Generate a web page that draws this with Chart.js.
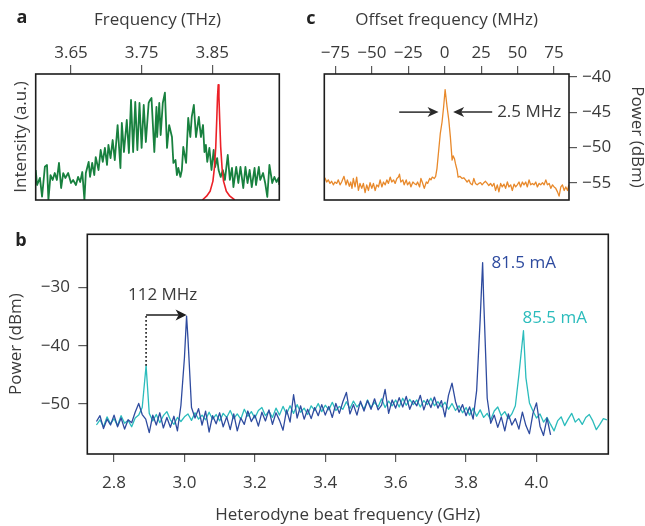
<!DOCTYPE html>
<html><head><meta charset="utf-8">
<script src="https://cdn.jsdelivr.net/npm/chart.js@4.4.1/dist/chart.umd.min.js"></script>
<style>
html,body{margin:0;padding:0;background:#fff;}
#wrap{position:relative;width:645px;height:526px;background:#fff;}
canvas{position:absolute;left:0;top:0;}
</style></head><body>
<div id="wrap">
<canvas id="ca" width="645" height="526"></canvas>
<canvas id="cc" width="645" height="526"></canvas>
<canvas id="cb" width="645" height="526"></canvas>
</div>
<script>
// ---------------- Panel a: spectra (THz) ----------------
const freqGreen = [
3.600,3.602,3.606,3.609,3.613,3.616,3.618,3.621,3.624,3.627,
3.630,3.633,3.636,3.639,3.642,3.646,3.650,3.653,3.657,3.660,
3.663,3.666,3.669,3.671,3.675,3.677,3.680,3.683,3.685,3.689,
3.692,3.695,3.698,3.701,3.703,3.706,3.709,3.712,3.716,3.720,
3.722,3.725,3.729,3.732,3.735,3.738,3.741,3.744,3.747,3.750,
3.753,3.756,3.760,3.762,3.764,3.768,3.771,3.772,3.775,3.777,
3.780,3.783,3.786,3.789,3.793,3.795,3.798,3.800,3.802,3.805,
3.807,3.809,3.813,3.816,3.819,3.821,3.824,3.827,3.831,3.834,
3.837,3.839,3.841,3.843,3.846,3.849,3.852,3.854,3.857,3.859,
3.862,3.865,3.868,3.872,3.875,3.878,3.880,3.884,3.887,3.890,
3.894,3.897,3.900,3.903,3.906,3.910,3.912,3.916,3.918,3.922,
3.925,3.928,3.931,3.935,3.938,3.941,3.944,3.945];
const intensityGreen = [
0.238,0.119,0.175,0.026,0.264,0.278,0.000,0.198,0.159,0.214,
0.159,0.294,0.095,0.214,0.175,0.214,0.135,0.159,0.119,0.183,
0.143,0.222,0.000,0.214,0.302,0.183,0.294,0.198,0.341,0.238,
0.397,0.302,0.413,0.278,0.437,0.333,0.476,0.317,0.595,0.254,
0.611,0.381,0.635,0.373,0.794,0.381,0.778,0.397,0.770,0.413,
0.754,0.460,0.770,0.794,0.810,0.381,0.738,0.500,0.770,0.516,
0.770,0.852,0.413,0.595,0.500,0.294,0.317,0.198,0.254,0.183,
0.238,0.421,0.294,0.651,0.500,0.659,0.754,0.500,0.659,0.500,
0.595,0.381,0.437,0.302,0.413,0.238,0.397,0.262,0.333,0.238,
0.183,0.238,0.159,0.357,0.159,0.254,0.103,0.262,0.135,0.262,
0.095,0.262,0.135,0.238,0.103,0.254,0.119,0.262,0.159,0.214,
0.135,0.024,0.278,0.135,0.183,0.143,0.175,0.119];
const freqRed = [3.836,3.842,3.847,3.851,3.853,3.855,3.8565,3.8575,3.8585,3.8595,3.8605,3.862,3.864,3.866,3.870,3.875,3.882];
const intensityRed = [0.0,0.03,0.07,0.15,0.25,0.42,0.65,0.82,0.915,0.82,0.65,0.42,0.25,0.15,0.07,0.03,0.0];
const ticksA = [3.65, 3.75, 3.85];
const tickLabelsA = ['3.65', '3.75', '3.85'];

// ---------------- Panel c: beat note (MHz offset) ----------------
const freqOrange = [
-82.2,-81.0,-79.9,-78.7,-77.6,-76.4,-75.3,-74.1,-73.0,-71.8,
-70.7,-69.1,-67.7,-66.8,-65.4,-64.5,-63.6,-62.7,-61.5,-60.4,
-59.2,-58.1,-56.9,-55.8,-54.6,-53.5,-52.3,-51.2,-50.0,-48.9,
-47.7,-46.6,-45.4,-44.3,-43.1,-42.0,-40.8,-39.7,-38.6,-37.4,
-36.3,-35.1,-34.0,-32.8,-31.7,-31.0,-30.1,-28.7,-27.8,-26.4,
-25.5,-24.1,-23.2,-21.8,-20.9,-19.5,-18.6,-17.2,-16.3,-15.4,
-14.0,-12.6,-11.7,-10.3,-9.4,-8.5,-7.1,-6.2,-5.3,-4.1,
-3.0,-1.8,-0.7,0.3,1.6,2.8,3.9,5.1,5.8,6.7,
7.4,8.5,9.2,10.4,12.0,13.1,14.3,15.4,16.6,17.7,
18.9,20.0,21.1,22.3,23.4,24.6,25.7,26.9,28.0,29.2,
30.3,31.5,32.6,33.8,34.9,36.1,37.2,38.4,39.5,40.7,
41.8,43.0,44.1,45.3,46.4,47.6,48.7,49.8,51.0,52.1,
53.3,54.4,55.6,56.7,57.9,59.0,60.2,61.3,62.5,63.6,
64.8,65.9,67.1,68.2,69.4,70.5,71.7,72.8,74.0,75.1,
76.2,77.4,78.5,79.7,80.8,82.0,83.1,84.3,85.2];
const powerOrange = [
-54.3,-54.9,-54.6,-55.1,-54.8,-55.3,-54.9,-55.1,-54.6,-55.3,
-54.9,-54.1,-55.3,-54.6,-55.5,-54.9,-55.8,-54.4,-55.6,-54.2,
-56.1,-55.1,-55.8,-55.1,-56.4,-55.3,-56.1,-55.0,-55.8,-55.1,
-56.1,-55.3,-55.6,-54.6,-55.6,-54.9,-55.3,-54.6,-55.1,-54.2,
-54.9,-54.6,-55.1,-54.4,-54.2,-53.8,-54.9,-54.6,-55.3,-54.6,
-55.3,-54.9,-55.6,-54.9,-55.1,-55.3,-54.9,-55.6,-54.4,-54.9,
-55.8,-54.9,-55.1,-54.4,-54.6,-54.2,-54.4,-54.1,-53.0,-50.4,
-48.0,-46.4,-44.2,-41.8,-44.2,-46.1,-48.5,-51.8,-51.2,-51.6,
-52.3,-53.2,-54.2,-54.1,-54.4,-54.3,-54.6,-54.9,-54.6,-55.1,
-55.3,-54.4,-55.1,-55.3,-55.1,-55.0,-55.3,-55.0,-54.8,-55.1,
-55.4,-55.1,-55.5,-55.1,-56.1,-55.3,-56.3,-55.1,-55.6,-55.2,
-55.8,-54.9,-55.6,-55.3,-56.1,-55.2,-55.6,-55.3,-54.9,-55.6,
-54.9,-55.3,-54.9,-55.6,-54.6,-55.3,-55.1,-55.3,-54.9,-55.6,
-55.1,-55.3,-55.0,-55.3,-54.6,-55.3,-55.1,-55.8,-55.3,-55.6,
-55.8,-56.3,-56.9,-55.6,-55.3,-56.1,-55.6,-56.1,-55.3];
const ticksCx = [-75, -50, -25, 0, 25, 50, 75];
const tickLabelsCx = ['\u221275', '\u221250', '\u221225', '0', '25', '50', '75'];
const ticksCy = [-55, -50, -45, -40];
const tickLabelsCy = ['\u221255', '\u221250', '\u221245', '\u221240'];

// ---------------- Panel b: heterodyne beat (GHz) ----------------
const freqBlue = [
2.75,2.76,2.77,2.78,2.79,2.80,2.81,2.82,2.83,2.84,
2.85,2.86,2.87,2.88,2.89,2.90,2.91,2.92,2.93,2.94,
2.95,2.96,2.97,2.98,2.99,3.00,3.006,3.01,3.02,3.03,
3.04,3.05,3.06,3.07,3.08,3.09,3.10,3.11,3.12,3.13,
3.14,3.15,3.16,3.17,3.18,3.19,3.20,3.21,3.22,3.23,
3.24,3.25,3.26,3.27,3.28,3.29,3.30,3.31,3.32,3.33,
3.34,3.35,3.36,3.37,3.38,3.39,3.40,3.41,3.42,3.43,
3.44,3.45,3.46,3.47,3.48,3.49,3.50,3.51,3.52,3.53,
3.54,3.55,3.56,3.57,3.58,3.59,3.60,3.61,3.62,3.63,
3.64,3.65,3.66,3.67,3.68,3.69,3.70,3.71,3.72,3.73,
3.74,3.75,3.76,3.77,3.78,3.79,3.80,3.81,3.82,3.83,
3.84,3.847,3.85,3.86,3.87,3.88,3.89,3.90,3.91,3.92,
3.93,3.94,3.95,3.96,3.97,3.98,3.99,4.00,4.01,4.02,
4.03,4.04];
const powerBlue = [
-53.0,-52.0,-54.2,-52.6,-53.6,-51.9,-53.9,-52.4,-54.3,-52.7,
-53.2,-51.4,-49.9,-51.8,-52.6,-54.9,-51.9,-53.6,-51.5,-54.1,
-52.3,-54.0,-52.1,-54.6,-50.2,-42.0,-34.9,-38.8,-50.6,-52.4,
-50.8,-53.6,-51.2,-54.8,-52.0,-53.4,-51.5,-53.9,-52.2,-54.4,
-51.7,-54.6,-52.4,-53.5,-51.2,-53.0,-51.9,-53.8,-51.4,-52.9,
-51.0,-53.5,-51.5,-52.8,-54.5,-51.0,-53.1,-48.4,-52.4,-50.3,
-52.6,-50.9,-52.5,-50.6,-52.0,-50.1,-51.9,-50.4,-52.3,-49.9,
-51.6,-49.6,-48.0,-51.7,-50.1,-51.9,-49.5,-51.2,-49.4,-50.9,
-49.1,-51.0,-50.2,-47.5,-51.6,-49.3,-50.7,-48.9,-50.5,-48.7,
-50.9,-49.4,-50.3,-48.5,-51.0,-49.2,-50.6,-48.8,-50.7,-49.4,
-52.2,-48.5,-46.4,-49.6,-51.4,-50.1,-52.0,-50.5,-52.6,-47.7,
-35.5,-25.7,-32.0,-49.0,-53.3,-51.9,-54.0,-52.2,-54.6,-51.7,
-53.6,-52.5,-54.3,-51.4,-53.7,-55.1,-51.6,-49.8,-53.8,-55.4,
-52.4,-55.3];
const freqCyan = [
2.75,2.76,2.77,2.78,2.79,2.80,2.81,2.82,2.83,2.84,
2.85,2.86,2.87,2.88,2.891,2.90,2.91,2.92,2.93,2.94,
2.95,2.96,2.97,2.98,2.99,3.00,3.01,3.02,3.03,3.04,
3.05,3.06,3.07,3.08,3.09,3.10,3.11,3.12,3.13,3.14,
3.15,3.16,3.17,3.18,3.19,3.20,3.21,3.22,3.23,3.24,
3.25,3.26,3.27,3.28,3.29,3.30,3.31,3.32,3.33,3.34,
3.35,3.36,3.37,3.38,3.39,3.40,3.41,3.42,3.43,3.44,
3.45,3.46,3.47,3.48,3.49,3.50,3.51,3.52,3.53,3.54,
3.55,3.56,3.57,3.58,3.59,3.60,3.61,3.62,3.63,3.64,
3.65,3.66,3.67,3.68,3.69,3.70,3.71,3.72,3.73,3.74,
3.75,3.76,3.77,3.78,3.79,3.80,3.81,3.82,3.83,3.84,
3.85,3.86,3.87,3.88,3.89,3.90,3.91,3.92,3.93,3.94,
3.95,3.963,3.97,3.98,3.99,4.00,4.01,4.02,4.03,4.04,
4.05,4.06,4.07,4.08,4.09,4.10,4.11,4.12,4.13,4.14,
4.15,4.16,4.17,4.18,4.19,4.20];
const powerCyan = [
-53.6,-52.7,-53.9,-52.2,-53.4,-52.5,-53.7,-52.0,-53.3,-52.8,
-53.9,-52.4,-51.9,-50.6,-43.4,-51.6,-52.9,-51.8,-53.2,-52.0,
-51.3,-52.7,-53.5,-52.3,-53.0,-52.2,-51.7,-52.8,-51.5,-52.6,
-51.9,-52.7,-51.4,-52.6,-51.8,-52.9,-51.6,-52.3,-51.1,-52.5,
-51.7,-52.6,-50.9,-52.1,-51.3,-52.4,-51.1,-50.6,-52.0,-51.2,
-52.3,-50.7,-51.9,-50.4,-51.7,-50.3,-51.6,-50.1,-51.4,-50.7,
-51.8,-50.3,-51.1,-49.9,-51.3,-50.2,-51.0,-49.7,-51.1,-50.4,
-50.9,-49.6,-50.8,-49.5,-50.5,-49.8,-50.9,-49.3,-50.6,-49.7,
-50.5,-49.1,-50.6,-49.5,-50.3,-49.3,-50.5,-49.0,-50.2,-49.2,
-50.1,-49.3,-50.5,-49.4,-50.1,-49.0,-50.3,-49.6,-50.5,-49.7,
-50.9,-49.9,-51.1,-50.3,-51.5,-50.6,-51.9,-50.7,-52.1,-51.0,
-52.3,-51.6,-52.7,-51.2,-50.5,-52.0,-51.3,-52.5,-51.7,-50.3,
-45.0,-37.4,-45.5,-49.8,-51.2,-52.4,-51.7,-53.1,-52.3,-53.5,
-54.6,-52.9,-52.2,-53.7,-52.6,-51.6,-53.1,-52.5,-53.5,-52.3,
-51.8,-52.9,-54.4,-53.5,-52.5,-52.7];
const ticksBx = [2.8, 3.0, 3.2, 3.4, 3.6, 3.8, 4.0];
const tickLabelsBx = ['2.8', '3.0', '3.2', '3.4', '3.6', '3.8', '4.0'];
const ticksBy = [-50, -40, -30];
const tickLabelsBy = ['\u221250', '\u221240', '\u221230'];

// ---------------- styling ----------------
const TXT = '#3a3a3a';
const TICKC = '#5a5a5a';
const FONT = "'Open Sans', 'DejaVu Sans', sans-serif";
const FS = 17;
const GREEN = '#18813f', RED = '#ec2027', ORANGE = '#e8892b', BLUE = '#2e4b9f', CYAN = '#2bbcbc';
Chart.defaults.font.family = FONT;
Chart.defaults.font.size = FS;
Chart.defaults.color = TXT;

function pts(xs, ys) { return xs.map((x, i) => ({x: x, y: ys[i]})); }
function setTicks(values) { return s => { s.ticks = values.map(v => ({value: v})); }; }
function line(data, color, w) {
  return {data: data, borderColor: color, borderWidth: w, pointRadius: 0, tension: 0,
          fill: false, borderJoinStyle: 'round', parsing: false};
}
const boxPlugin = {
  id: 'box',
  afterDatasetsDraw(chart) {
    const {ctx, chartArea: a} = chart;
    ctx.save();
    ctx.strokeStyle = '#1c1c1c';
    ctx.lineWidth = 1.6;
    ctx.strokeRect(a.left, a.top, a.right - a.left, a.bottom - a.top);
    ctx.restore();
  }
};
function arrowH(ctx, x1, y, x2, head, half) {
  const d = Math.sign(x2 - x1);
  ctx.beginPath(); ctx.moveTo(x1, y); ctx.lineTo(x2 - d * head * 0.7, y); ctx.stroke();
  ctx.beginPath();
  ctx.moveTo(x2, y);
  ctx.lineTo(x2 - d * head, y - half);
  ctx.lineTo(x2 - d * head * 0.72, y);
  ctx.lineTo(x2 - d * head, y + half);
  ctx.closePath(); ctx.fill();
}
function letter(ctx, t, x, y) {
  ctx.save();
  ctx.font = "bold 18px " + FONT;
  ctx.fillStyle = '#222';
  ctx.textAlign = 'center'; ctx.textBaseline = 'middle';
  ctx.fillText(t, x, y);
  ctx.restore();
}
const baseOpts = {
  animation: false, responsive: false, events: [],
  plugins: {legend: {display: false}, tooltip: {enabled: false}}
};

// ---------------- Chart a ----------------
new Chart(document.getElementById('ca'), {
  type: 'line',
  data: {datasets: [line(pts(freqRed, intensityRed), RED, 1.6), line(pts(freqGreen, intensityGreen), GREEN, 1.8)]},
  options: Object.assign({}, baseOpts, {
    layout: {padding: {left: 0, top: 0, right: 645 - 279.3, bottom: 526 - 200}},
    scales: {
      x: {type: 'linear', position: 'top', min: 3.600, max: 3.945,
          afterBuildTicks: setTicks(ticksA), afterFit: s => { s.height = 74; },
          ticks: {callback: (v, i) => tickLabelsA[i], padding: 1.8, maxRotation: 0, autoSkip: false, color: TXT},
          grid: {drawOnChartArea: false, tickLength: 9, color: TICKC, lineWidth: 1.2},
          border: {display: false},
          title: {display: true, text: 'Frequency (THz)', color: TXT, font: {size: FS}, padding: {top: 9.8, bottom: 0}}},
      y: {type: 'linear', position: 'left', min: 0, max: 1,
          afterFit: s => { s.width = 35.7; },
          ticks: {display: false}, grid: {display: false}, border: {display: false},
          title: {display: true, text: 'Intensity (a.u.)', color: TXT, font: {size: FS}, padding: {top: 10.5, bottom: 0}}}
    }
  }),
  plugins: [boxPlugin, {id: 'lblA', afterDraw(chart) { letter(chart.ctx, 'a', 22, 18); letter(chart.ctx, 'c', 311, 19); }}]
});

// ---------------- Chart c ----------------
const annC = {
  arrows: [{from: -31.2, to: -4.2, at: -45}, {from: 32.6, to: 5.8, at: -45}],
  text: {label: '2.5 MHz', x: 36.0, y: -45}
};
new Chart(document.getElementById('cc'), {
  type: 'line',
  data: {datasets: [line(pts(freqOrange, powerOrange), ORANGE, 1.3)]},
  options: Object.assign({}, baseOpts, {
    layout: {padding: {left: 324.3, top: 0, right: 0, bottom: 526 - 200}},
    scales: {
      x: {type: 'linear', position: 'top', min: -82.6, max: 85.3,
          afterBuildTicks: setTicks(ticksCx), afterFit: s => { s.height = 74; },
          ticks: {callback: (v, i) => tickLabelsCx[i], padding: 2.8, maxRotation: 0, autoSkip: false, color: TXT},
          grid: {drawOnChartArea: false, tickLength: 8, color: TICKC, lineWidth: 1.2},
          border: {display: false},
          title: {display: true, text: 'Offset frequency (MHz)', color: TXT, font: {size: FS}, padding: {top: 9.8, bottom: 0}}},
      y: {type: 'linear', position: 'right', min: -57.45, max: -39.6,
          afterBuildTicks: setTicks(ticksCy), afterFit: s => { s.width = 645 - 569; },
          ticks: {callback: (v, i) => tickLabelsCy[i], padding: 5, autoSkip: false, color: TXT},
          grid: {drawOnChartArea: false, tickLength: 8, color: TICKC, lineWidth: 1.2},
          border: {display: false},
          title: {display: true, text: 'Power (dBm)', color: TXT, font: {size: FS}, padding: {top: -2.2, bottom: 0}}}
    }
  }),
  plugins: [boxPlugin, {id: 'annC', afterDatasetsDraw(chart) {
    const {ctx, scales: {x, y}} = chart;
    ctx.save();
    ctx.strokeStyle = '#2a2a2a'; ctx.fillStyle = '#2a2a2a'; ctx.lineWidth = 1.5;
    annC.arrows.forEach(a => arrowH(ctx, x.getPixelForValue(a.from), y.getPixelForValue(a.at), x.getPixelForValue(a.to), 11, 5));
    ctx.font = FS + 'px ' + FONT; ctx.fillStyle = TXT;
    ctx.textAlign = 'left'; ctx.textBaseline = 'middle';
    ctx.fillText(annC.text.label, x.getPixelForValue(annC.text.x), y.getPixelForValue(annC.text.y));
    ctx.restore();
  }}]
});

// ---------------- Chart b ----------------
const annB = {
  shift: {from: 2.891, to: 3.006, base: -43.4, at: -34.7, label: '112 MHz', lx: 2.938, ly: -31.25},
  labels: [{text: '81.5 mA', x: 3.872, y: -25.8, color: BLUE}, {text: '85.5 mA', x: 3.960, y: -35.25, color: CYAN}]
};
new Chart(document.getElementById('cb'), {
  type: 'line',
  data: {datasets: [line(pts(freqBlue, powerBlue), BLUE, 1.3), line(pts(freqCyan, powerCyan), CYAN, 1.3)]},
  options: Object.assign({}, baseOpts, {
    layout: {padding: {left: 0, top: 234.3, right: 645 - 608.3, bottom: 0}},
    scales: {
      x: {type: 'linear', position: 'bottom', min: 2.724, max: 4.204,
          afterBuildTicks: setTicks(ticksBx), afterFit: s => { s.height = 526 - 454; },
          ticks: {callback: (v, i) => tickLabelsBx[i], padding: 10.8, maxRotation: 0, autoSkip: false, color: TXT},
          grid: {drawOnChartArea: false, tickLength: 8, color: TICKC, lineWidth: 1.2},
          border: {display: false},
          title: {display: true, text: 'Heterodyne beat frequency (GHz)', color: TXT, font: {size: FS}, padding: {top: 0, bottom: 0.8}}},
      y: {type: 'linear', position: 'left', min: -58.58, max: -20.84,
          afterBuildTicks: setTicks(ticksBy), afterFit: s => { s.width = 87.3; },
          ticks: {callback: (v, i) => tickLabelsBy[i], padding: 8.3, autoSkip: false, color: TXT},
          grid: {drawOnChartArea: false, tickLength: 9, color: TICKC, lineWidth: 1.2},
          border: {display: false},
          title: {display: true, text: 'Power (dBm)', color: TXT, font: {size: FS}, padding: {top: 5.6, bottom: 0}}}
    }
  }),
  plugins: [boxPlugin, {id: 'annB', afterDatasetsDraw(chart) {
    const {ctx, scales: {x, y}} = chart;
    const s = annB.shift;
    ctx.save();
    ctx.strokeStyle = '#1e1e1e'; ctx.fillStyle = '#1e1e1e'; ctx.lineWidth = 1.6;
    const xs = x.getPixelForValue(s.from), xe = x.getPixelForValue(s.to), ya = y.getPixelForValue(s.at);
    ctx.setLineDash([1.6, 2.4]);
    ctx.beginPath(); ctx.moveTo(xs, y.getPixelForValue(s.base)); ctx.lineTo(xs, ya); ctx.stroke();
    ctx.setLineDash([]);
    arrowH(ctx, xs, ya, xe, 11, 5.5);
    ctx.font = FS + 'px ' + FONT; ctx.textBaseline = 'middle';
    ctx.fillStyle = TXT; ctx.textAlign = 'center';
    ctx.fillText(s.label, x.getPixelForValue(s.lx), y.getPixelForValue(s.ly));
    ctx.textAlign = 'left';
    annB.labels.forEach(l => { ctx.fillStyle = l.color; ctx.fillText(l.text, x.getPixelForValue(l.x), y.getPixelForValue(l.y)); });
    ctx.restore();
    letter(ctx, 'b', 21, 241);
  }}]
});
</script>
</body></html>
